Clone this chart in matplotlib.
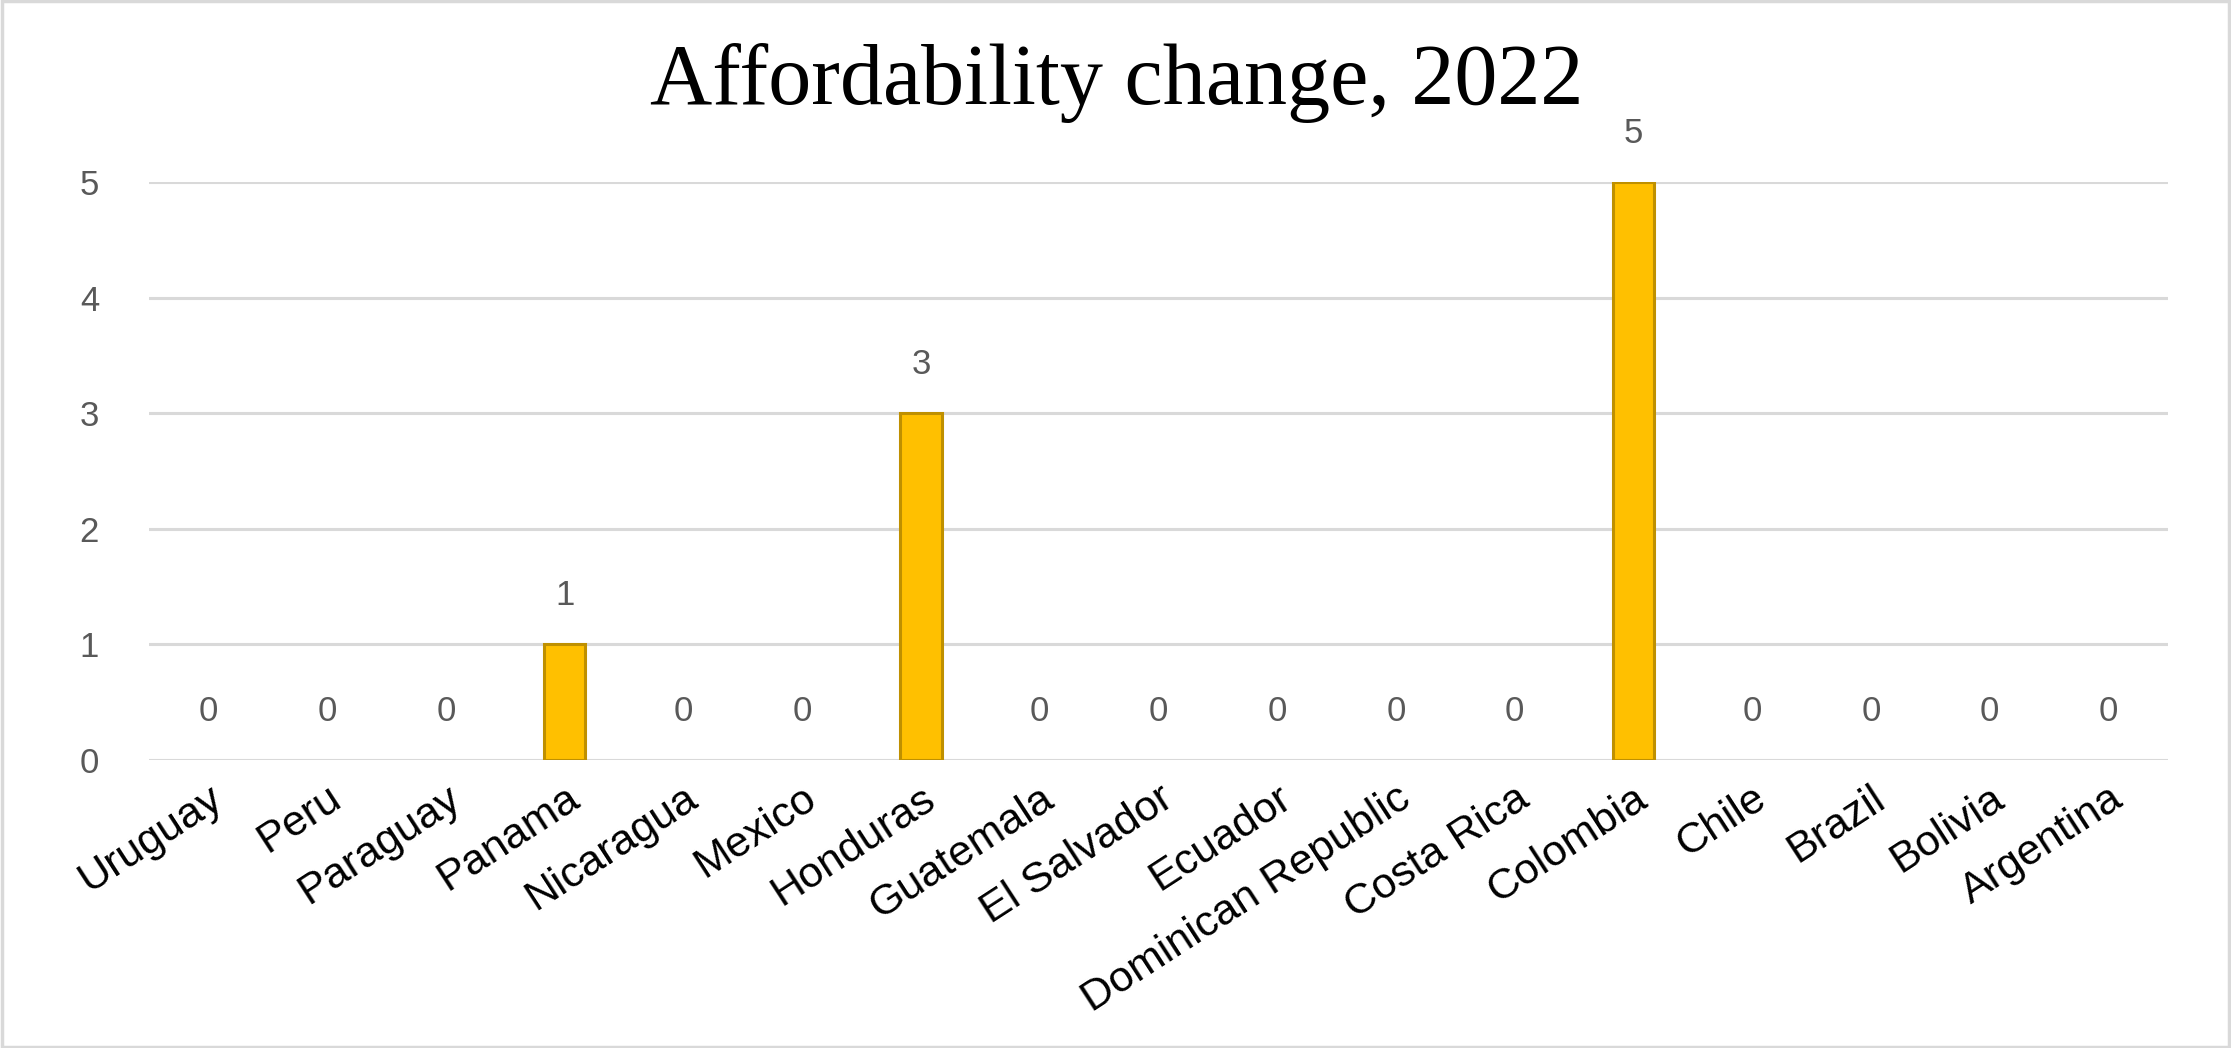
import matplotlib.pyplot as plt
from matplotlib.patches import Rectangle

countries = [
    "Uruguay", "Peru", "Paraguay", "Panama", "Nicaragua", "Mexico", "Honduras",
    "Guatemala", "El Salvador", "Ecuador", "Dominican Republic", "Costa Rica",
    "Colombia", "Chile", "Brazil", "Bolivia", "Argentina",
]
values = [0, 0, 0, 1, 0, 0, 3, 0, 0, 0, 0, 0, 5, 0, 0, 0, 0]
y_ticks = [0, 1, 2, 3, 4, 5]

fig = plt.figure(figsize=(22.31, 10.48), dpi=100)
ax = fig.add_axes([0.0668, 0.2748, 0.9049, 0.5515])

x = range(len(countries))
bars = ax.bar(x, values, width=0.35, color="#FFC000", edgecolor="#BF9000",
              linewidth=2.2, zorder=3)
# Excel draws nothing for zero-height bars
for b, v in zip(bars, values):
    if v == 0:
        b.set_linewidth(0)

for xi, v in zip(x, values):
    ax.annotate(str(v), (xi, v), xytext=(0, 35), textcoords="offset points",
                ha="center", va="center", fontsize=25, color="#595959",
                family="Liberation Sans")

ax.set_xlim(-0.5, len(countries) - 0.5)
ax.set_ylim(0, 5)
ax.set_yticks(y_ticks)
ax.set_yticklabels([str(t) for t in y_ticks], fontsize=25, color="#595959",
                   family="Liberation Sans")
ax.set_xticks(list(x))
ax.set_xticklabels(countries, rotation=33, ha="right", va="top",
                   rotation_mode="anchor", fontsize=31, color="black",
                   family="Liberation Sans")
ax.tick_params(axis="y", length=0, pad=36)
ax.tick_params(axis="x", length=0, pad=13)

ax.grid(axis="y", color="#D9D9D9", linewidth=2.2, zorder=0)
for s in ax.spines.values():
    s.set_visible(False)
ax.set_axisbelow(True)

fig.text(0.5007, 0.921, "Affordability change, 2022", ha="center", va="center",
         fontsize=62, family="Liberation Serif", color="black")

fig.patches.append(Rectangle((0.001, 0.001), 0.998, 0.998, transform=fig.transFigure,
                             fill=False, edgecolor="#D9D9D9", linewidth=2.5))

fig.savefig("out.png", dpi=100, facecolor="white")
